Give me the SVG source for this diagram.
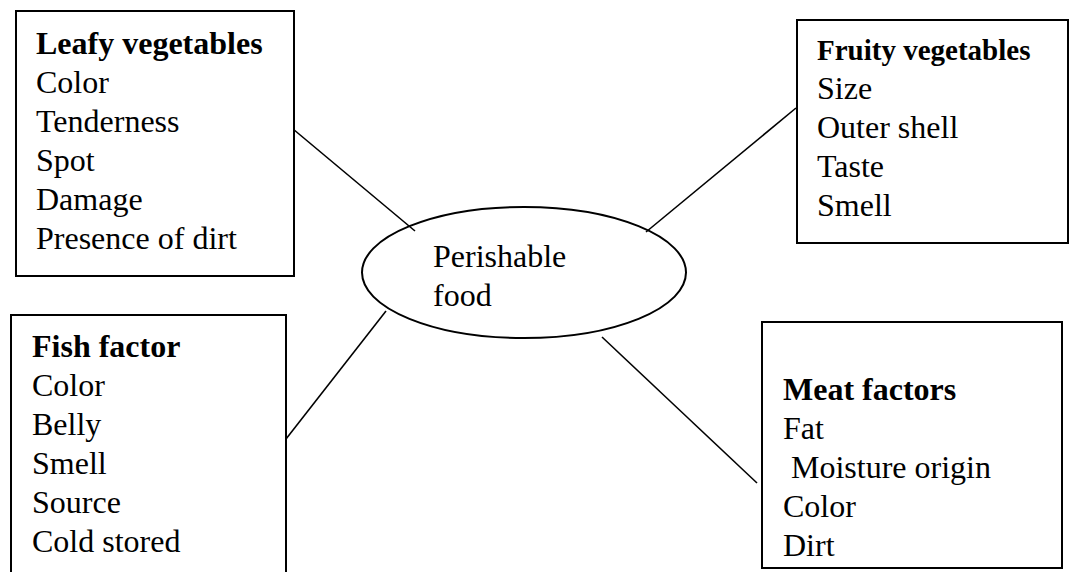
<svg xmlns="http://www.w3.org/2000/svg" width="1070" height="572" viewBox="0 0 1070 572">
<style>
.box{fill:#fff;stroke:#000;stroke-width:2}
.t{font-family:"Liberation Serif","Times New Roman",serif;font-size:32px;fill:#000}
.b{font-weight:bold}
.c line{stroke:#000;stroke-width:1.6}
</style>
<rect width="1070" height="572" fill="#fff"/>
<g class="c" id="connectors">
<line x1="293" y1="129" x2="415" y2="231"/>
<line x1="796" y1="108" x2="646" y2="232"/>
<line x1="286" y1="439" x2="386" y2="311"/>
<line x1="602" y1="337" x2="757" y2="483"/>
</g>
<g id="center">
<ellipse cx="524" cy="272.5" rx="162" ry="65.5" fill="none" stroke="#000" stroke-width="2"/>
<text class="t" x="433" y="267">Perishable</text>
<text class="t" x="433" y="306">food</text>
</g>
<g id="leafy">
<rect class="box" x="16" y="11" width="278" height="265"/>
<text class="t b" x="36" y="54">Leafy vegetables</text>
<text class="t" x="36" y="93">Color</text>
<text class="t" x="36" y="132">Tenderness</text>
<text class="t" x="36" y="171">Spot</text>
<text class="t" x="36" y="210">Damage</text>
<text class="t" x="36" y="249">Presence of dirt</text>
</g>
<g id="fruity">
<rect class="box" x="797" y="20" width="271" height="223"/>
<text class="t b" x="817" y="60" style="font-size:29px">Fruity vegetables</text>
<text class="t" x="817" y="99">Size</text>
<text class="t" x="817" y="138">Outer shell</text>
<text class="t" x="817" y="177">Taste</text>
<text class="t" x="817" y="216">Smell</text>
</g>
<g id="fish">
<rect class="box" x="11" y="315" width="275" height="270"/>
<text class="t b" x="32" y="357">Fish factor</text>
<text class="t" x="32" y="396">Color</text>
<text class="t" x="32" y="435">Belly</text>
<text class="t" x="32" y="474">Smell</text>
<text class="t" x="32" y="513">Source</text>
<text class="t" x="32" y="552">Cold stored</text>
</g>
<g id="meat">
<rect class="box" x="762" y="322" width="300" height="246"/>
<text class="t b" x="783" y="400">Meat factors</text>
<text class="t" x="783" y="439">Fat</text>
<text class="t" x="783" y="478" xml:space="preserve"> Moisture origin</text>
<text class="t" x="783" y="517">Color</text>
<text class="t" x="783" y="556">Dirt</text>
</g>
</svg>
